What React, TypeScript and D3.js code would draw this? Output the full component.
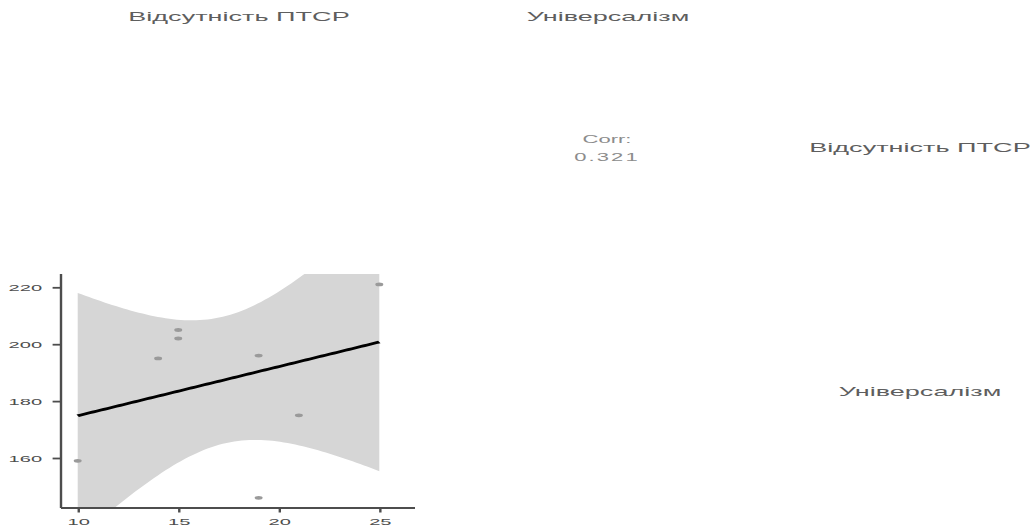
import { useEffect, useRef } from 'react'
import * as d3 from 'd3'

// змінні матриці (порядок рядків/стовпців)
const varNames = ['Відсутність ПТСР', 'Універсалізм']
// спостереження
const ptsdAbsence = [10, 14, 15, 15, 19, 19, 21, 25]
const universalism = [159, 195, 205, 202, 196, 146, 175, 221]
// тики
const xTicks = [10, 15, 20, 25]
const yTicks = [160, 180, 200, 220]

const W = 1034, H = 528
const SX = 2.1          // картинка розтягнута по горизонталі
const VW = W / SX
const vx = (px: number) => px / SX

// межі панелей у пікселях
const COLS = [[61, 415], [430, 784]]
const ROWS = [[30, 264], [274, 508]]
const T975 = 2.446912   // qt(0.975, df = 6)

export default function App() {
  const svgRef = useRef<SVGSVGElement>(null)

  useEffect(() => {
    document.body.style.margin = '0'
    const svg = svgRef.current
    if (!svg) return
    const sel = d3.select(svg)
    sel.selectAll('*').remove()

    const font = 'Liberation Sans, Arial, sans-serif'

    // верхні підписи
    varNames.forEach((name, i) => {
      sel.append('text')
        .attr('x', vx((COLS[i][0] + COLS[i][1]) / 2 + 1)).attr('y', 21.5)
        .attr('text-anchor', 'middle').attr('fill', '#5e5e5e').attr('font-size', 12.9)
        .attr('font-family', font).text(name)
    })
    // праві підписи
    varNames.forEach((name, i) => {
      sel.append('text')
        .attr('x', vx(920)).attr('y', (ROWS[i][0] + ROWS[i][1]) / 2 + 5)
        .attr('text-anchor', 'middle').attr('fill', '#5e5e5e').attr('font-size', 12.9)
        .attr('font-family', font).text(name)
    })

    // регресія
    const n = ptsdAbsence.length
    const mx = d3.mean(ptsdAbsence)!, my = d3.mean(universalism)!
    const sxx = d3.sum(ptsdAbsence, d => (d - mx) ** 2)
    const syy = d3.sum(universalism, d => (d - my) ** 2)
    const sxy = d3.sum(ptsdAbsence, (d, i) => (d - mx) * (universalism[i] - my))
    const slope = sxy / sxx
    const icpt = my - slope * mx
    const r = sxy / Math.sqrt(sxx * syy)
    const s = Math.sqrt((syy - sxy * sxy / sxx) / (n - 2))

    // Corr
    const cx = vx((COLS[1][0] + COLS[1][1]) / 2)
    sel.append('text').attr('x', cx).attr('y', 143.5)
      .attr('text-anchor', 'middle').attr('fill', '#8c8c8c').attr('font-size', 10.5)
      .attr('font-family', font).text('Corr:')
    sel.append('text').attr('x', cx).attr('y', 161.5)
      .attr('text-anchor', 'middle').attr('fill', '#8c8c8c').attr('font-size', 10.5)
      .attr('font-family', font).attr('letter-spacing', 1).text(r.toFixed(3))

    // нижня ліва панель
    const [px0, px1] = COLS[0]
    const [py0, py1] = ROWS[1]
    const x = d3.scaleLinear().domain([10, 25]).range([vx(77.7), vx(379.3)])
    const y = d3.scaleLinear().domain([160, 220]).range([458, 287.3])

    const clipId = 'clip-panel'
    sel.append('clipPath').attr('id', clipId)
      .append('rect').attr('x', vx(px0)).attr('y', py0)
      .attr('width', vx(px1 - px0)).attr('height', py1 - py0)

    const g = sel.append('g').attr('clip-path', `url(#${clipId})`)

    const [xmin, xmax] = d3.extent(ptsdAbsence) as [number, number]
    const grid = d3.range(80).map(i => xmin + (i * (xmax - xmin)) / 79)
    const band = grid.map(xv => {
      const fit = icpt + slope * xv
      const se = s * Math.sqrt(1 / n + (xv - mx) ** 2 / sxx)
      return { x: xv, lo: fit - T975 * se, hi: fit + T975 * se, fit }
    })

    g.append('path').datum(band)
      .attr('fill', '#d6d6d6')
      .attr('d', d3.area<typeof band[0]>().x(d => x(d.x)).y0(d => y(d.lo)).y1(d => y(d.hi)))

    g.selectAll('circle').data(ptsdAbsence).join('circle')
      .attr('cx', d => x(d)).attr('cy', (_, i) => y(universalism[i]))
      .attr('r', 1.9).attr('fill', '#9a9a9a')

    g.append('path').datum(band)
      .attr('fill', 'none').attr('stroke', '#000').attr('stroke-width', 2.6)
      .attr('d', d3.line<typeof band[0]>().x(d => x(d.x)).y(d => y(d.fit)))

    // осі
    const axisColor = '#4d4d4d'
    sel.append('line')
      .attr('x1', vx(px0)).attr('x2', vx(px0)).attr('y1', py0).attr('y2', py1)
      .attr('stroke', axisColor).attr('stroke-width', 1.15)
    sel.append('line')
      .attr('x1', vx(px0)).attr('x2', vx(px1)).attr('y1', py1).attr('y2', py1)
      .attr('stroke', axisColor).attr('stroke-width', 1.8)

    sel.append('g').attr('transform', `translate(${vx(px0)},0)`)
      .call(d3.axisLeft(y).tickValues(yTicks).tickSize(4).tickPadding(5).tickSizeOuter(0))
      .call(ag => {
        ag.select('.domain').remove()
        ag.selectAll('line').attr('stroke', axisColor).attr('stroke-width', 1.8)
        ag.selectAll('text').attr('fill', '#4d4d4d').attr('font-size', 9.6).attr('font-family', font)
      })

    sel.append('g').attr('transform', `translate(0,${py1})`)
      .call(d3.axisBottom(x).tickValues(xTicks).tickSize(4.5).tickPadding(6).tickSizeOuter(0))
      .call(ag => {
        ag.select('.domain').remove()
        ag.selectAll('line').attr('stroke', axisColor).attr('stroke-width', 1.15)
        ag.selectAll('text').attr('fill', '#4d4d4d').attr('font-size', 9.6).attr('font-family', font)
      })
  }, [])

  return (
    <svg
      ref={svgRef}
      width={W}
      height={H}
      viewBox={`0 0 ${VW} ${H}`}
      preserveAspectRatio="none"
      style={{ display: 'block', background: '#fff' }}
    />
  )
}
